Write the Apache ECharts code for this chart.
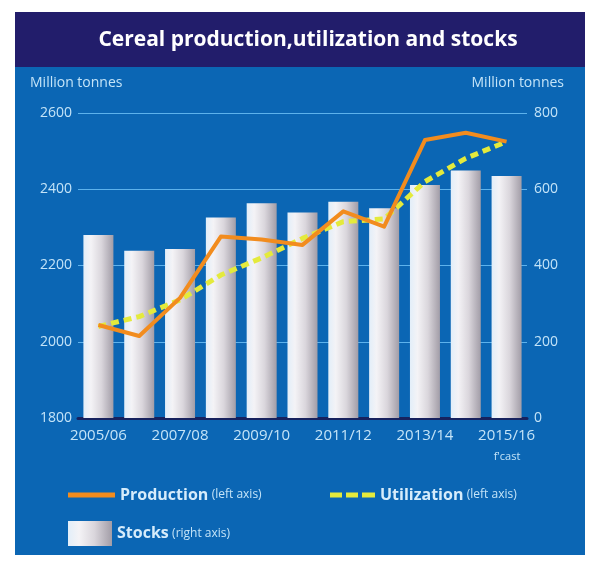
<!DOCTYPE html>
<html><head><meta charset="utf-8">
<script src="https://cdn.jsdelivr.net/npm/echarts@6/dist/echarts.min.js"></script>
<style>html,body{margin:0;padding:0;background:#fff}#c{width:600px;height:569px}</style>
</head><body><div id="c"></div>
<script>
const categories = ['2005/06','2006/07','2007/08','2008/09','2009/10','2010/11','2011/12','2012/13','2013/14','2014/15','2015/16'];
const production = [2044, 2015, 2115, 2276, 2268, 2254, 2342, 2302, 2529, 2548, 2525];
const utilization = [2040, 2066, 2110, 2175, 2220, 2271, 2315, 2322, 2420, 2481, 2525];
const stocks = [480, 439, 443, 526, 563, 539, 567, 550, 611, 649, 635];
const leftTicks = [1800, 2600, 200];
const rightTicks = [0, 800, 200];

const chart = echarts.init(document.getElementById('c'), null, {renderer:'canvas'});
const FONT = 'Open Sans';
const labelColor = '#C4E4F8';
const barGrad = new echarts.graphic.LinearGradient(0,0,1,0,[
  {offset:0, color:'#E2EEF9'},{offset:0.25,color:'#F4F3F6'},{offset:0.6,color:'#DAD6DC'},{offset:1,color:'#A29DA7'}]);
const legRich = {
  b:{fontFamily:FONT, fontWeight:'bold', fontSize:16, color:'#D6ECFB'},
  s:{fontFamily:FONT, fontSize:12, color:'#C4E4F8'}
};
chart.setOption({
  backgroundColor:'#ffffff',
  graphic:[
    {type:'rect', left:15, top:12, shape:{width:570, height:543}, style:{fill:'#0B66B4'}, z:-10},
    {type:'rect', left:15, top:12, shape:{width:570, height:55}, style:{fill:'#221D6B'}, z:-9},
    {type:'text', x:308, y:40, style:{text:'Cereal production,utilization and stocks', fill:'#ffffff', font:'bold 21px "Open Sans"', textAlign:'center', textVerticalAlign:'middle'}},
    {type:'text', x:30, y:83, style:{text:'Million tonnes', fill:labelColor, font:'14px "Open Sans"', textAlign:'left', textVerticalAlign:'middle'}},
    {type:'text', x:564, y:83, style:{text:'Million tonnes', fill:labelColor, font:'14px "Open Sans"', textAlign:'right', textVerticalAlign:'middle'}},
    {type:'text', x:507, y:457, style:{text:"f'cast", fill:labelColor, font:'11px "Open Sans"', textAlign:'center', textVerticalAlign:'middle'}}
  ],
  grid:{left:78, right:73, top:113, bottom:151},
  legend:[
    {left:68, top:487, padding:0, itemWidth:47, itemHeight:5,
     data:[{name:'Production', icon:'path://M0,0H47V5H0Z'}],
     formatter:n=>'{b|Production} {s|(left axis)}', textStyle:{rich:legRich}},
    {left:330, top:487, padding:0, itemWidth:45, itemHeight:5,
     data:[{name:'Utilization', icon:'path://M0,0H12V5H0ZM16,0H28V5H16ZM32,0H45V5H32Z'}],
     formatter:n=>'{b|Utilization} {s|(left axis)}', textStyle:{rich:legRich}},
    {left:68, top:521, padding:0, itemWidth:44, itemHeight:25, data:['Stocks'], icon:'rect',
     formatter:n=>'{b|Stocks} {s|(right axis)}', textStyle:{rich:legRich}}
  ],
  xAxis:{type:'category', data:categories,
    axisLine:{lineStyle:{color:'#17225E', width:3}}, axisTick:{show:false},
    axisLabel:{interval:1, color:labelColor, fontFamily:FONT, fontSize:15, margin:10}},
  yAxis:[
    {type:'value', min:leftTicks[0], max:leftTicks[1], interval:leftTicks[2],
     axisLine:{show:false}, axisTick:{show:false},
     axisLabel:{color:labelColor, fontFamily:FONT, fontSize:14, margin:6, formatter:v=>String(v)},
     splitLine:{lineStyle:{color:'#5DB2EC', width:1}}},
    {type:'value', min:rightTicks[0], max:rightTicks[1], interval:rightTicks[2],
     axisLine:{show:false}, axisTick:{show:false},
     axisLabel:{color:labelColor, fontFamily:FONT, fontSize:14, margin:7, formatter:v=>String(v)},
     splitLine:{show:false}}
  ],
  series:[
    {name:'Stocks', type:'bar', yAxisIndex:1, data:stocks, barWidth:30,
     itemStyle:{color:barGrad}, z:1},
    {name:'Utilization', type:'line', yAxisIndex:0, data:utilization, symbol:'none',
     lineStyle:{color:'#E4EA3C', width:5, type:[8,5]}, itemStyle:{color:'#E4EA3C'}, z:3},
    {name:'Production', type:'line', yAxisIndex:0, data:production, symbol:'none',
     lineStyle:{color:'#F28C1E', width:4, join:'round'}, itemStyle:{color:'#F28C1E'}, z:4}
  ],
  animation:false
});
</script></body></html>
